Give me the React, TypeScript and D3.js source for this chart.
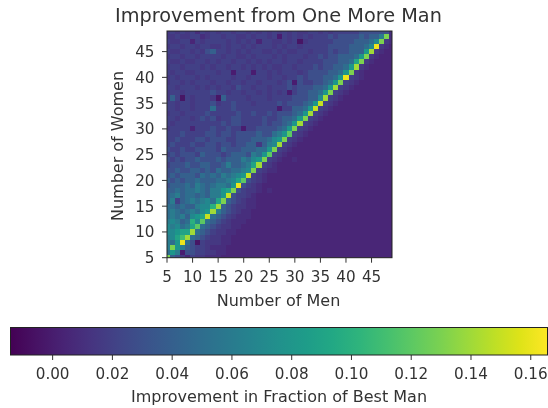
import React from "react";
import * as d3 from "d3";

const W = 548, H = 408;
const title = "Improvement from One More Man";
const xLabel = "Number of Men";
const yLabel = "Number of Women";
const cbLabel = "Improvement in Fraction of Best Man";
const axisTicks = [5, 10, 15, 20, 25, 30, 35, 40, 45];
const cbTicks = [0, 0.02, 0.04, 0.06, 0.08, 0.1, 0.12, 0.14, 0.16];
const domainXY = [5, 49];
const cbDomain = [-0.0141, 0.1656];

// value for each character used in the rows below
const levelKeys = "0123456789abcdefghijk";
const levelValues = [-0.012, -0.005, 0, 0.005, 0.01, 0.015, 0.02, 0.03, 0.04, 0.05, 0.06, 0.07, 0.08, 0.09, 0.1, 0.11, 0.12, 0.13, 0.14, 0.15, 0.16];

// rows y = 49 (top) down to y = 5; columns x = 5..49, in groups of five
const rows = [
  "56565 64656 56656 65656 56565 65566 56566 66677 77774",
  "55655 66456 65665 56566 56265 65656 66767 77787 88ah4",
  "65566 36566 66565 65636 65565 61566 66677 77888 9bh54",
  "56656 65665 56566 56566 65656 65666 66777 78889 bk543",
  "65566 56578 66565 65665 56565 56656 66767 7888c i5433",
  "56656 65666 65665 56566 65656 66566 76778 889ch 54333",
  "65565 56656 56656 65656 56656 65666 67778 89dh5 43333",
  "56656 66565 66566 56565 65566 56667 67788 9ci54 33333",
  "65665 56666 56626 66266 56566 65677 77889 ch543 33333",
  "56566 65656 66656 65666 56656 67677 7889c k6543 33333",
  "56656 56665 66566 56656 66567 27667 789ch 65433 33333",
  "66566 65656 56657 66566 56667 67778 89ci6 54333 33333",
  "56656 66667 66566 56656 56562 67788 9ch65 43333 33333",
  "58616 56665 18666 65666 56666 77788 bi654 33333 33333",
  "66566 56667 56676 66566 66767 7789c j6543 33333 33333",
  "66566 56669 66676 66666 66266 889cj 65433 33333 33333",
  "56656 66676 66667 66766 76777 89ci6 54333 33333 33333",
  "66566 56767 56677 66667 66788 9ch65 43333 33333 33333",
  "65666 66666 67677 66667 67789 ci654 33333 33333 33333",
  "56666 36667 66766 26677 7789c h6543 33333 33333 33333",
  "66676 66677 67767 77787 79acg 65433 33333 33333 33333",
  "66766 67767 77667 77888 9bch6 54333 33333 33333 33333",
  "67666 76677 67767 78858 abi65 43333 33333 33333 33333",
  "76676 67777 68777 88899 ch654 33333 33333 33333 33333",
  "67677 76877 76788 87a9c g6543 33333 33333 33333 33333",
  "76767 78777 87888 a9bch 65433 43333 33333 33333 33333",
  "67778 77887 78a88 9adi6 54333 33333 33333 33333 33333",
  "77877 88787 98899 abh65 44333 33333 33333 33333 33333",
  "78788 87989 8a9ab cj654 33333 33333 33333 33333 33333",
  "87878 89888 99abd g7654 33333 33333 33333 33333 33333",
  "78889 8a989 aa9ck 76543 33333 33333 33333 33333 33333",
  "88989 9a98a acdh7 65543 43333 33333 33333 33333 33333",
  "89a89 9898a acj76 65433 33333 33333 33333 33333 33333",
  "8a689 a9ab9 dh876 54433 33333 33333 33333 33333 33333",
  "99898 8abbe i8765 54433 33333 33333 33333 33333 33333",
  "9a989 a9bci a8765 44333 33333 33333 33333 33333 33333",
  "9a9a8 bcdj9 87654 44333 33333 33333 33333 33333 33333",
  "aba89 ebg98 76544 43333 33333 33333 33333 33333 33333",
  "bab9a dg987 65544 33333 33333 33333 33333 33333 33333",
  "bbcdd i9876 55443 33333 33333 33333 33333 33333 33333",
  "abdfi 98765 54433 33333 33333 33333 33333 33333 33333",
  "a9ck9 71655 54433 33333 33333 33333 33333 33333 33333",
  "ahca8 76654 44333 33333 33333 33333 33333 33333 33333",
  "9ca27 76655 44333 33333 33333 33333 33333 33333 33333",
  "h8753 65544 43333 33333 33333 33333 33333 33333 33333",
];

const font = "'DejaVu Sans', sans-serif";
const ink = "#333";

export default function App() {
  const x = d3.scaleLinear().domain(domainXY).range([167, 392]);
  const y = d3.scaleLinear().domain(domainXY).range([257.7, 31]);
  const cbX = d3.scaleLinear().domain(cbDomain).range([10.5, 547.5]);
  const color = d3.scaleSequential(d3.interpolateViridis).domain(cbDomain);
  const cells = rows.flatMap((r, ri) =>
    r.replace(/ /g, "").split("").map((ch, ci) => ({
      mx: 5 + ci,
      my: 49 - ri,
      v: levelValues[levelKeys.indexOf(ch)],
    }))
  );
  const stops = d3.range(0, 1.0001, 0.05);
  const fmt = d3.format(".2f");
  return (
    <svg width={W} height={H} style={{ position: "absolute", left: 0, top: 0, background: "#fff" }} fontFamily={font}>
      <defs>
        <clipPath id="plot">
          <rect x={167} y={31} width={225} height={226.7} />
        </clipPath>
        <filter id="soft" x="-5%" y="-5%" width="110%" height="110%">
          <feGaussianBlur stdDeviation="0.7" />
        </filter>
        <filter id="softText" x="-5%" y="-5%" width="110%" height="110%">
          <feGaussianBlur stdDeviation="0.3" />
        </filter>
        <linearGradient id="cb">
          {stops.map((t) => (
            <stop key={t} offset={t} stopColor={d3.interpolateViridis(t)} />
          ))}
        </linearGradient>
      </defs>

      <g clipPath="url(#plot)">
        <g filter="url(#soft)">
          {cells.map((c) => (
            <rect
              key={c.mx + "-" + c.my}
              x={x(c.mx - 0.5)}
              y={y(c.my + 0.5)}
              width={x(c.mx + 0.5) - x(c.mx - 0.5) + 0.6}
              height={y(c.my - 0.5) - y(c.my + 0.5) + 0.6}
              fill={color(c.v)}
              shapeRendering="crispEdges"
            />
          ))}
        </g>
      </g>
      <rect x={167} y={31} width={225} height={226.7} fill="none" stroke="#222" strokeWidth={1} />

      <g filter="url(#softText)" fill={ink}>
        <text x={278.5} y={22} textAnchor="middle" fontSize={19.3}>{title}</text>

        {axisTicks.map((t) => (
          <g key={"x" + t}>
            <line x1={x(t)} x2={x(t)} y1={257.7} y2={262.7} stroke={ink} />
            <text x={x(t)} y={282} textAnchor="middle" fontSize={15.2}>{t}</text>
          </g>
        ))}
        {axisTicks.map((t) => (
          <g key={"y" + t}>
            <line x1={162} x2={167} y1={y(t)} y2={y(t)} stroke={ink} />
            <text x={154.5} y={y(t) + 5.5} textAnchor="end" fontSize={15.2}>{t}</text>
          </g>
        ))}
        <text x={278.5} y={306} textAnchor="middle" fontSize={16}>{xLabel}</text>
        <text transform={`translate(123,146) rotate(-90)`} textAnchor="middle" fontSize={16}>{yLabel}</text>

        {cbTicks.map((t) => (
          <g key={"c" + t}>
            <line x1={cbX(t)} x2={cbX(t)} y1={355} y2={360} stroke={ink} />
            <text x={cbX(t)} y={379.3} textAnchor="middle" fontSize={15.2}>{fmt(t)}</text>
          </g>
        ))}
        <text x={279} y={402} textAnchor="middle" fontSize={16}>{cbLabel}</text>
      </g>

      <rect x={10.5} y={327.5} width={537} height={27.5} fill="url(#cb)" stroke="#222" strokeWidth={1} />
    </svg>
  );
}
